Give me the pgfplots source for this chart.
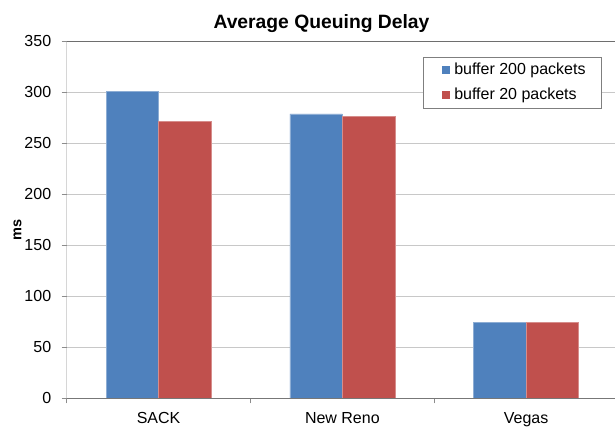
\documentclass[border=0pt]{standalone}
\usepackage{pgfplots}
\pgfplotsset{compat=1.18}
\usepackage{fontspec}
\setmainfont{Liberation Sans}
\definecolor{bblue}{HTML}{4F81BD}
\definecolor{bred}{HTML}{C0504D}
\definecolor{gridc}{HTML}{C8C8C8}
\definecolor{axisc}{HTML}{8C8C8C}
\definecolor{topc}{HTML}{6E6E6E}
\definecolor{legc}{HTML}{7F7F7F}
\begin{document}
\begin{tikzpicture}[x=1pt,y=1pt]
\path[use as bounding box] (0,0) rectangle (615,426);
\clip (0,0) rectangle (615,426);
\begin{axis}[
  at={(66.7pt,27.7pt)}, anchor=south west,
  scale only axis, width=551.3pt, height=357.3pt,
  ybar=0pt, bar width=52.5pt,
  xmin=-0.5, xmax=2.5, ymin=0, ymax=350,
  axis line style={draw=none},
  /pgf/number format/assume math mode=true,
  xtick={0,1,2}, xticklabels={SACK,New Reno,Vegas},
  xtick style={draw=none},
  extra x ticks={-0.5,0.5,1.5},
  extra x tick labels={},
  extra x tick style={xtick style={draw=axisc, line width=0.8pt}, grid=none},
  ytick={0,50,...,300},
  extra y ticks={350},
  extra y tick style={grid style={topc, line width=1pt}},
  ymajorgrids, grid style={gridc, line width=0.8pt},
  tick align=outside, major tick length=5pt,
  xtick pos=bottom, ytick pos=left,
  ytick style={draw=axisc, line width=0.8pt},
  ticklabel style={font=\fontsize{16}{19}\selectfont},
  yticklabel style={xshift=-7pt},
  xticklabel style={anchor=north, text height=11.5pt, inner sep=0pt, yshift=-8.4pt},
  legend style={at={(0.971,0.9552)}, anchor=north east, draw=legc, line width=0.8pt,
    font=\fontsize{16}{19}\selectfont, inner xsep=16pt, inner ysep=5pt, row sep=9pt,
    nodes={inner sep=0pt, text height=12pt, text depth=4pt},
    /tikz/every odd column/.append style={column sep=4pt}},
  legend cell align=left,
  legend image code/.code={\path (-2.5pt,0pt); \fill[#1,draw=none] (0pt,-4pt) rectangle (8pt,4pt);},
]
\addplot[fill=bblue, draw=bblue!65!white, line width=0.6pt] coordinates {(0,301) (1,278.5) (2,74.5)};
\addplot[fill=bred, draw=bred!65!white, line width=0.6pt] coordinates {(0,271.5) (1,276) (2,74.5)};
\legend{buffer 200 packets, buffer 20 packets}
\draw[axisc, line width=0.9pt] (rel axis cs:0,1) -- (rel axis cs:0,0);
\draw[axisc!85!black, line width=0.9pt] (rel axis cs:0,0) -- (rel axis cs:1,0);
\end{axis}
\node[anchor=base, font=\bfseries\fontsize{19.3}{23}\selectfont] at (321.5,397.7) {Average Queuing Delay};
\node[rotate=90, font=\bfseries\fontsize{14.5}{17}\selectfont] at (17.5,196.4) {ms};
\end{tikzpicture}
\end{document}
